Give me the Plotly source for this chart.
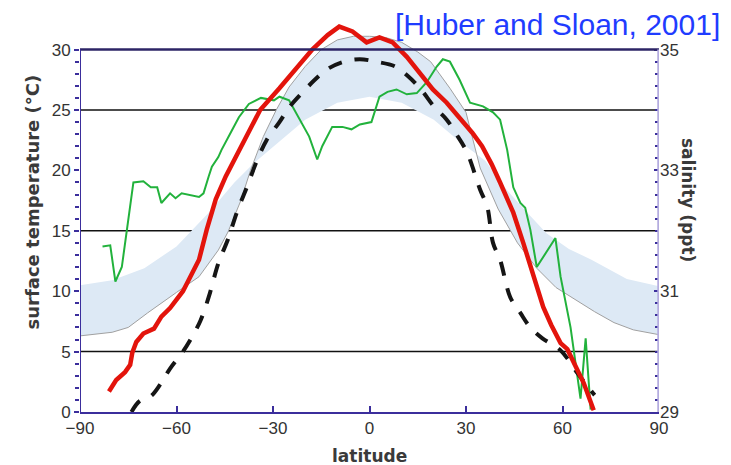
import plotly.graph_objects as go

# band edges (lat, temperature) - modern SST range
band_upper_lat = [-90, -80, -70, -60, -50, -42, -36, -28, -20, -10, 0, 10, 20, 28, 36, 42, 48, 55, 62, 69, 80, 90]
band_upper_t = [10.5, 10.9, 11.9, 13.7, 16.5, 19.0, 20.6, 22.4, 24.2, 25.6, 26.1, 25.6, 24.2, 22.4, 20.8, 18.6, 16.8, 14.8, 13.5, 12.6, 11.0, 10.4]

gray_lat = [-90, -80, -75, -69, -60, -53, -47, -44, -40, -37, -33, -29, -25, -20, -15, -10, -5, 0, 5, 10, 15, 19, 25, 30, 34.4, 40, 46, 52, 58, 65.6, 70, 76, 82, 90]
gray_t = [6.3, 6.6, 7.0, 8.2, 9.9, 11.2, 13.4, 14.9, 17.5, 20.0, 22.8, 25.0, 26.9, 28.6, 30.0, 30.8, 31.1, 31.1, 31.0, 30.6, 29.8, 29.0, 26.8, 24.8, 20.2, 16.8, 14.0, 11.9, 10.3, 9.0, 8.3, 7.4, 6.8, 6.4]

red_lat = [-81, -78.75, -76, -74.4, -73.75, -72.5, -70.3, -67, -64.7, -62, -60, -58, -56.25, -53, -50.6, -47.8,
           -44.7, -41.6, -38, -34, -28, -23, -17.8, -13, -9.4, -5.3, -0.9, 3.1, 7.2, 11.6, 15.6, 19.7, 24, 28,
           32, 35, 38, 40.6, 44.7, 47.8, 51, 54, 56.5, 59.4, 61.5, 63.4, 66.6, 69.7]
red_t = [1.7, 2.65, 3.3, 3.9, 4.9, 5.8, 6.5, 6.9, 7.9, 8.6, 9.3, 10.0, 10.9, 12.6, 15.1, 17.6,
         19.5, 21.1, 22.8, 25.0, 26.8, 28.4, 30.0, 31.2, 31.9, 31.5, 30.6, 31.0, 30.6, 29.4, 28.1, 26.7, 25.6, 24.4,
         23.1, 22.0, 20.5, 19.0, 16.5, 14.0, 11.2, 8.7, 7.2, 5.7, 5.2, 4.1, 2.4, 0.15]

green_lat = [-83, -80.6, -79, -77, -73.4, -70.3, -68, -66, -64.7, -62, -60.3, -58.4, -53, -51.6, -50, -49, -47, -46,
             -43, -40.6, -37.5, -33.75, -29.7, -28, -25, -22, -18.75, -16.25, -14.7, -11.6, -8.4, -5.6, -3, 0.6,
             3.1, 5.6, 8.4, 11.6, 14.7, 17.8, 20.9, 22.8, 25, 28, 31.25, 35.3, 38.4, 40.6, 42.8, 44.7, 46.9, 48.4,
             50, 52, 57.8, 59.4, 62.5, 65.6, 67.2, 68.75]
green_t = [13.7, 13.8, 10.8, 12.0, 19.0, 19.1, 18.6, 18.6, 17.3, 18.1, 17.7, 18.1, 17.8, 18.1, 19.5, 20.3, 21.1, 21.7,
           23.2, 24.4, 25.5, 26.0, 25.8, 26.1, 25.8, 24.4, 22.8, 20.9, 22.0, 23.6, 23.6, 23.4, 23.8, 24.0,
           26.1, 26.5, 26.7, 26.3, 26.4, 27.3, 28.6, 29.2, 29.0, 27.5, 25.6, 25.3, 24.8, 24.2, 21.7, 18.6, 17.3, 16.9,
           15.1, 12.0, 14.4, 11.2, 7.0, 1.1, 6.1, 0.2]

dash_lat = [-74, -71.5, -68, -65, -62, -58, -55, -52.5, -50, -47, -44, -41, -38, -35, -32, -28, -25, -21, -17, -13,
            -8, -3, 2, 8, 12, 16, 20, 24, 27, 30.3, 34.4, 36.6, 38.4, 40.6, 43.75, 46.9, 50, 53.75, 59.4, 64.7, 68.75, 70]
dash_t = [0, 0.9, 1.3, 2.3, 3.6, 5.0, 6.3, 7.6, 9.5, 12.3, 14.3, 16.7, 18.7, 20.8, 22.5, 24.0, 25.2, 26.4, 27.5, 28.4,
          29.0, 29.2, 29.0, 28.6, 27.8, 26.7, 25.3, 24.2, 23.0, 21.5, 18.4, 17.0, 14.0, 12.6, 9.5, 8.2, 7.0, 6.1, 5.1, 3.2, 1.8, 1.4]

x_ticks = [-90, -60, -30, 0, 30, 60, 90]
t_ticks = [0, 5, 10, 15, 20, 25, 30]
t_minor = list(range(0, 31))
sal_ticks = [29, 31, 33, 35]
sal_minor = [29 + 0.2 * i for i in range(31)]

axis_col = '#3b2e9c'
font_fam = 'Liberation Sans, Arial, sans-serif'
label_font = dict(family='DejaVu Sans', color='#3a3a3a')

fig = go.Figure()
fig.add_trace(go.Scatter(x=band_upper_lat, y=band_upper_t, mode='lines',
                         line=dict(width=0, color='rgba(0,0,0,0)'), showlegend=False, hoverinfo='skip'))
fig.add_trace(go.Scatter(x=gray_lat, y=gray_t, mode='lines', fill='tonexty',
                         fillcolor='#dde9f5', line=dict(width=1, color='#a0a0a0'), showlegend=False))
fig.add_trace(go.Scatter(x=green_lat, y=green_t, mode='lines',
                         line=dict(width=2, color='#22b23c'), showlegend=False))
fig.add_trace(go.Scatter(x=dash_lat, y=dash_t, mode='lines',
                         line=dict(width=4, color='#151515', dash='14px,13px', shape='spline'), showlegend=False))
fig.add_trace(go.Scatter(x=red_lat, y=red_t, mode='lines',
                         line=dict(width=4.5, color='#e3140c'), showlegend=False))
# dummy trace to hold the salinity axis
fig.add_trace(go.Scatter(x=[0], y=[30], yaxis='y2', mode='markers',
                         marker=dict(opacity=0), showlegend=False, hoverinfo='skip'))

# grid lines, top line and side axis lines
for t in [5, 15, 25]:
    fig.add_shape(type='line', x0=-90, x1=90, y0=t, y1=t, line=dict(color='#111', width=1.5), layer='below')
fig.add_shape(type='line', x0=-90, x1=90, y0=30, y1=30, line=dict(color='#2c2466', width=2.5))
fig.add_shape(type='line', x0=-90, x1=-90, y0=0, y1=30, line=dict(color=axis_col, width=2))
fig.add_shape(type='line', x0=90, x1=90, y0=0, y1=30, line=dict(color='#b4acdf', width=3.5))

# page body has an 8px margin: the figure starts at (8, 8) in the window
fig.update_layout(
    width=723, height=457,
    margin=dict(l=72, r=72, t=15, b=53),
    plot_bgcolor='white', paper_bgcolor='white',
    font=dict(family=font_fam, size=17, color='#333'),
    xaxis=dict(range=[-90, 90], tickvals=x_ticks, ticks='inside', ticklen=6, tickcolor=axis_col, tickwidth=1.5,
               showline=True, linecolor=axis_col, linewidth=2, showgrid=False, zeroline=False, automargin=False),
    yaxis=dict(range=[0, 32.2], tickvals=t_ticks, ticks='outside', ticklen=5, tickcolor=axis_col, tickwidth=1.5,
               minor=dict(tickvals=t_minor, ticks='outside', ticklen=4, tickcolor=axis_col, showgrid=False),
               showline=False, showgrid=False, zeroline=False, automargin=False),
    yaxis2=dict(range=[29, 29 + 32.2 / 5], tickvals=sal_ticks, overlaying='y', side='right',
                ticks='inside', ticklen=5, tickcolor=axis_col, tickwidth=1.5,
                minor=dict(tickvals=sal_minor, ticks='inside', ticklen=4, tickcolor=axis_col, showgrid=False),
                showline=False, showgrid=False, zeroline=False, automargin=False),
    annotations=[
        dict(text='[Huber and Sloan, 2001]', x=642 / 579, xref='paper', xanchor='right',
             y=(412 - 24) / 389, yref='paper', yanchor='middle', showarrow=False,
             font=dict(size=30, color='#1f3cff')),
        dict(text='<b>latitude</b>', x=0.5, xref='paper', y=0, yref='paper', yshift=-44,
             yanchor='middle', showarrow=False, font=dict(size=17, **label_font)),
        dict(text='<b>surface temperature (°C)</b>', textangle=-90, x=0, xref='paper', xshift=-60,
             y=0.54, yref='paper', showarrow=False, font=dict(size=18, **label_font)),
        dict(text='<b>salinity (ppt)</b>', textangle=90, x=1.0, xref='paper', xshift=41, y=0.545, yref='paper',
             showarrow=False, font=dict(size=17, **label_font)),
    ],
)

fig.write_html("out.html")
